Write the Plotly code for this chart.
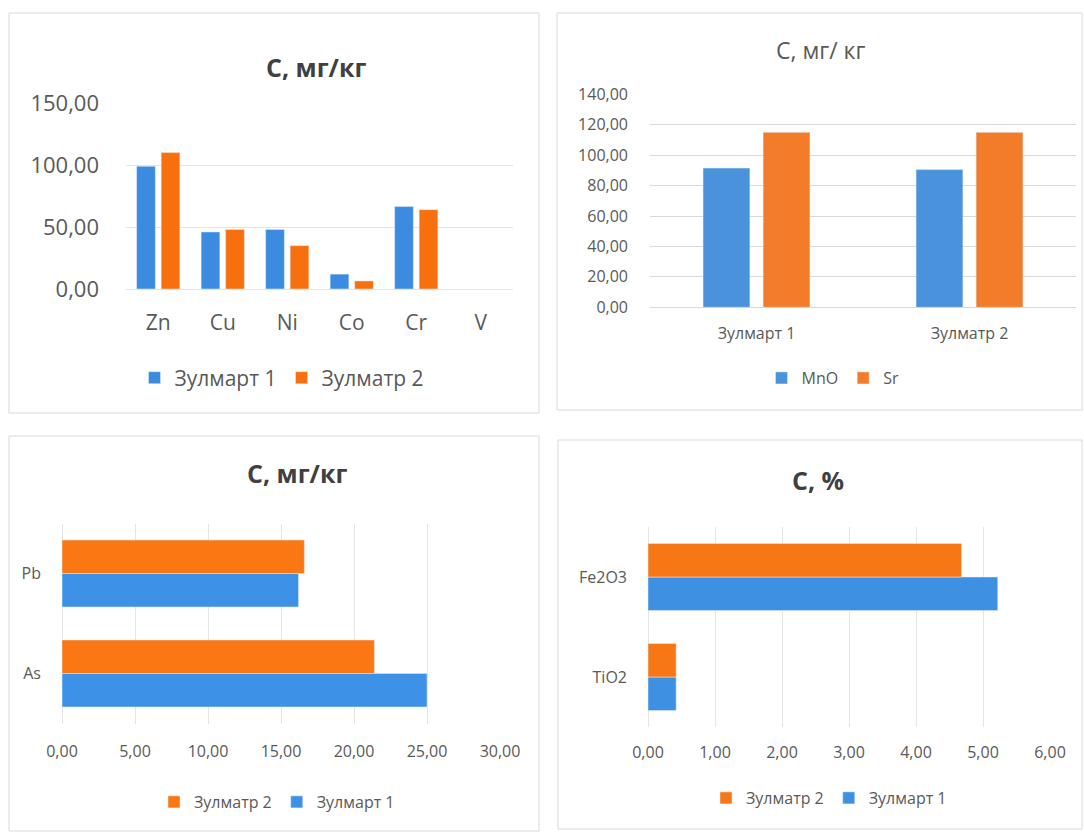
import plotly.graph_objects as go

W, H = 1084, 833

# --- data -------------------------------------------------------------
# top-left: heavy metals, mg/kg
metals = ["Zn", "Cu", "Ni", "Co", "Cr", "V"]
metals_zulmart1 = [99.0, 46.0, 48.0, 12.0, 66.5, None]
metals_zulmatr2 = [110.0, 48.0, 35.0, 6.5, 64.0, None]
metals_ticks = [0, 50, 100, 150]

# top-right: MnO and Sr, mg/kg
sites = ["Зулмарт 1", "Зулматр 2"]
mno_values = [91.5, 90.5]
sr_values = [115.0, 115.0]
mno_sr_ticks = [0, 20, 40, 60, 80, 100, 120, 140]

# bottom-left: As and Pb, mg/kg (listed bottom to top)
as_pb = ["As", "Pb"]
as_pb_zulmart1 = [25.0, 16.2]
as_pb_zulmatr2 = [21.4, 16.6]
as_pb_ticks = [0, 5, 10, 15, 20, 25, 30]

# bottom-right: oxides, % (listed bottom to top)
oxides = ["TiO2", "Fe2O3"]
oxides_zulmart1 = [0.42, 5.22]
oxides_zulmatr2 = [0.42, 4.68]
oxides_ticks = [0, 1, 2, 3, 4, 5, 6]

# --- styling helpers ----------------------------------------------------
FONT = "Open Sans, Noto Sans, DejaVu Sans, sans-serif"
TXT = "#595959"
TITLE = "#404040"
GRID = "#E4E4E4"
FRAME = "#D9D9D9"


def fx(px):
    return px / W


def fy(py):
    return 1 - py / H


def tick_text(vals):
    return [f"{v:.2f}".replace(".", ",") for v in vals]


fig = go.Figure()

# top-left
fig.add_bar(x=metals, y=metals_zulmart1, name="Зулмарт 1", marker_color="#3B8CE0",
            width=0.29, offset=-0.335, xaxis="x", yaxis="y", legend="legend")
fig.add_bar(x=metals, y=metals_zulmatr2, name="Зулматр 2", marker_color="#F8700E",
            width=0.29, offset=0.045, xaxis="x", yaxis="y", legend="legend")

# top-right
fig.add_bar(x=sites, y=mno_values, name="MnO", marker_color="#4A92DC",
            width=0.22, offset=-0.251, xaxis="x2", yaxis="y2", legend="legend2")
fig.add_bar(x=sites, y=sr_values, name="Sr", marker_color="#F27C2A",
            width=0.22, offset=0.031, xaxis="x2", yaxis="y2", legend="legend2")

# bottom-left
fig.add_bar(y=as_pb, x=as_pb_zulmart1, name="Зулмарт 1", orientation="h",
            marker_color="#3D91E6", width=0.335, offset=-0.335,
            xaxis="x3", yaxis="y3", legend="legend3")
fig.add_bar(y=as_pb, x=as_pb_zulmatr2, name="Зулматр 2", orientation="h",
            marker_color="#FA7714", width=0.335, offset=0.0,
            xaxis="x3", yaxis="y3", legend="legend3")

# bottom-right
fig.add_bar(y=oxides, x=oxides_zulmart1, name="Зулмарт 1", orientation="h",
            marker_color="#3D90E2", width=0.335, offset=-0.335,
            xaxis="x4", yaxis="y4", legend="legend4")
fig.add_bar(y=oxides, x=oxides_zulmatr2, name="Зулматр 2", orientation="h",
            marker_color="#F77717", width=0.335, offset=0.0,
            xaxis="x4", yaxis="y4", legend="legend4")

cat_common = dict(showgrid=False, zeroline=False, showline=False, ticks="",
                  fixedrange=True, automargin=False)
val_common = dict(showgrid=True, gridcolor=GRID, gridwidth=1, zeroline=True,
                  zerolinecolor=GRID, zerolinewidth=1, showline=False, ticks="",
                  fixedrange=True, automargin=False)

legend_common = dict(orientation="h", xanchor="center", yanchor="middle",
                     bgcolor="rgba(0,0,0,0)", xref="paper", yref="paper")

fig.update_layout(
    width=W, height=H, autosize=False,
    margin=dict(l=0, r=0, t=0, b=0, pad=0, autoexpand=False),
    paper_bgcolor="white", plot_bgcolor="white",
    font=dict(family=FONT, color=TXT),
    barmode="overlay",
    # top-left
    xaxis=dict(cat_common, domain=[fx(126), fx(513)], anchor="y",
               range=[-0.5, 5.5], tickfont=dict(size=21), ticklabelstandoff=19),
    yaxis=dict(val_common, domain=[fy(289), fy(103)], anchor="x",
               range=[0, 150], tickvals=metals_ticks, ticktext=tick_text(metals_ticks),
               tickfont=dict(size=22), ticklabelstandoff=26),
    # top-right
    xaxis2=dict(cat_common, domain=[fx(650), fx(1076)], anchor="y2",
                range=[-0.5, 1.5], tickfont=dict(size=16), ticklabelstandoff=15),
    yaxis2=dict(val_common, domain=[fy(307.3), fy(94.3)], anchor="x2",
                range=[0, 140], tickvals=mno_sr_ticks, ticktext=tick_text(mno_sr_ticks),
                gridcolor="#D9D9D9", zerolinecolor="#D9D9D9",
                tickfont=dict(size=16), ticklabelstandoff=21),
    # bottom-left
    xaxis3=dict(val_common, domain=[fx(62), fx(500)], anchor="y3",
                range=[0, 30], tickvals=as_pb_ticks, ticktext=tick_text(as_pb_ticks),
                tickfont=dict(size=16), ticklabelstandoff=16),
    yaxis3=dict(cat_common, domain=[fy(723.5), fy(523.5)], anchor="x3",
                range=[-0.5, 1.5], tickfont=dict(size=16), ticklabelstandoff=20),
    # bottom-right
    xaxis4=dict(val_common, domain=[fx(648), fx(1050)], anchor="y4",
                range=[0, 6], tickvals=oxides_ticks, ticktext=tick_text(oxides_ticks),
                tickfont=dict(size=16), ticklabelstandoff=14),
    yaxis4=dict(cat_common, domain=[fy(727), fy(527)], anchor="x4",
                range=[-0.5, 1.5], tickfont=dict(size=16), ticklabelstandoff=20),
    legend=dict(legend_common, x=fx(282), y=fy(378),
                font=dict(size=21, color=TXT)),
    legend2=dict(legend_common, x=fx(833), y=fy(378),
                 font=dict(size=16, color=TXT)),
    legend3=dict(legend_common, x=fx(277), y=fy(802),
                 font=dict(size=16, color=TXT), traceorder="reversed"),
    legend4=dict(legend_common, x=fx(829), y=fy(798),
                 font=dict(size=16, color=TXT), traceorder="reversed"),
)

# chart titles
titles = [
    ("С, мг/кг", 316, 67, 25, True),
    ("С, мг/ кг", 820, 50, 23, False),
    ("С, мг/кг", 297, 473, 25, True),
    ("С, %", 818, 480, 25, True),
]
for text, cx, cy, size, bold in titles:
    fig.add_annotation(
        text=f"<b>{text}</b>" if bold else text,
        x=fx(cx), y=fy(cy), xref="paper", yref="paper",
        xanchor="center", yanchor="middle", showarrow=False,
        font=dict(size=size, color=TITLE if bold else TXT, family=FONT),
    )

# frames around each chart
frames = [(9, 13, 539, 413), (557, 13, 1082, 410),
          (9, 436, 539, 831), (558, 440, 1082, 829)]
for x0, y0, x1, y1 in frames:
    fig.add_shape(type="rect", xref="paper", yref="paper",
                  x0=fx(x0), x1=fx(x1), y0=fy(y1), y1=fy(y0),
                  line=dict(color=FRAME, width=1), fillcolor="rgba(0,0,0,0)",
                  layer="below")

fig.write_html("out.html")
